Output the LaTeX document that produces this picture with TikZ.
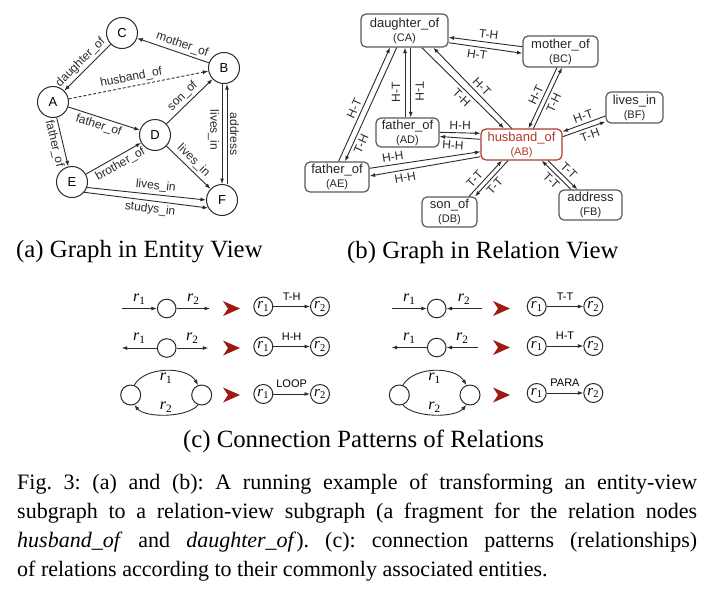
\documentclass[tikz,border=0pt]{standalone}
\usepackage{fontspec}
\setmainfont{Liberation Serif}
\setsansfont{Liberation Sans}
\usetikzlibrary{arrows.meta,calc}
\definecolor{ln}{HTML}{2B2B2B}
\definecolor{bx}{HTML}{5A5A5A}
\definecolor{rd}{HTML}{B0392E}
\definecolor{darr}{HTML}{9C1A12}
\newcommand\rsub[1]{\textit{r}\textsubscript{#1}}
\tolerance=10000 \hbadness=10000 \hyphenpenalty=10000
\frenchspacing
\begin{document}
\begin{tikzpicture}[x=1pt,y=-1pt,
  >={Latex[length=5.5pt,width=4pt]},
  ent/.style={circle,draw=ln,line width=1pt,minimum size=31pt,inner sep=0pt,font=\sffamily\fontsize{13}{13}\selectfont},
  arr/.style={->,draw=ln,line width=0.9pt},
  elab/.style={font=\sffamily\fontsize{12}{12}\selectfont,text=ln,inner sep=2.5pt},
  blab/.style={font=\sffamily\fontsize{12}{12}\selectfont,text=ln,inner sep=3pt},
  rbox/.style={draw=bx,rounded corners=5pt,line width=1.2pt,minimum height=30pt,inner sep=1pt,align=center,font=\sffamily\fontsize{13}{14}\selectfont,text=black!85},
  pcirc/.style={circle,draw=ln,line width=1pt,minimum size=18.6pt,inner sep=0pt},
  rcirc/.style={circle,draw=ln,line width=1pt,minimum size=19pt,inner sep=0pt,font=\fontsize{15}{15}\selectfont},
  rlab/.style={font=\fontsize{16}{16}\selectfont,inner sep=1pt},
  clab/.style={font=\sffamily\fontsize{11}{11}\selectfont,above=4pt,inner sep=2pt},
  sub/.style={font=\fontsize{24.8}{28}\selectfont,inner sep=0pt}
]
\useasboundingbox[fill=white] (0,0) rectangle (711,590);

% ---------------- (a) entity view ----------------
\node[ent] (C) at (122,33) {C};
\node[ent] (B) at (224,68) {B};
\node[ent] (A) at (53,102) {A};
\node[ent] (D) at (155,135) {D};
\node[ent] (E) at (72,182) {E};
\node[ent] (F) at (222,200) {F};

\draw[arr] (C) -- node[elab,sloped,above,pos=0.52] {daughter\_of} (A);
\draw[arr] (B) -- node[elab,sloped,above,pos=0.41] {mother\_of} (C);
\draw[arr,dash pattern=on 3pt off 2pt] (A) -- node[elab,sloped,above,pos=0.46] {husband\_of} (B);
\draw[arr] (A) -- node[elab,sloped,below,pos=0.46] {father\_of} (D);
\draw[arr] (A) -- node[elab,sloped,below] {father\_of} (E);
\draw[arr] (E) -- node[elab,sloped,below,pos=0.55] {brother\_of} (D);
\draw[arr] (D) -- node[elab,sloped,above,pos=0.48] {son\_of} (B);
\draw[arr] (D) -- node[elab,sloped,above,pos=0.48] {lives\_in} (F);
\draw[arr] ([xshift=-2pt]B.south) -- node[elab,rotate=-90,anchor=north,pos=0.46] {lives\_in} (F.north);
\draw[arr] ([xshift=5pt]F.north) -- node[elab,rotate=-90,anchor=south,pos=0.5] {address} ([xshift=3pt]B.south);
\draw[arr] (E.-20) -- node[elab,sloped,above,pos=0.57] {lives\_in} (F.180);
\draw[arr] (E.-40) -- node[elab,sloped,below,pos=0.54] {studys\_in} (F.-150);

% ---------------- (b) relation view ----------------
\node[rbox,minimum width=87pt,minimum height=33pt] (CA) at (404.5,30.5) {daughter\_of\\\fontsize{11}{14}\selectfont (CA)};
\node[rbox,minimum width=75pt,minimum height=31pt] (BC) at (560.5,51.5) {mother\_of\\\fontsize{11}{14}\selectfont (BC)};
\node[rbox,minimum width=57pt,minimum height=31pt] (BF) at (634.5,107.5) {lives\_in\\\fontsize{11}{14}\selectfont (BF)};
\node[rbox,minimum width=63pt,minimum height=29pt] (AD) at (407.5,132.5) {father\_of\\\fontsize{11}{14}\selectfont (AD)};
\node[rbox,minimum width=81pt,minimum height=31pt,draw=rd,text=rd] (AB) at (521.5,144.5) {husband\_of\\\fontsize{11}{14}\selectfont (AB)};
\node[rbox,minimum width=64pt] (AE) at (337,177) {father\_of\\\fontsize{11}{14}\selectfont (AE)};
\node[rbox,minimum width=55pt] (DB) at (449.5,212) {son\_of\\\fontsize{11}{14}\selectfont (DB)};
\node[rbox,minimum width=63pt] (FB) at (590.5,205) {address\\\fontsize{11}{14}\selectfont (FB)};

% CA - BC
\draw[arr] ([shift={(0,-4.8)}]BC.west) -- node[blab,sloped,above,pos=0.47] {T-H} ([shift={(0,6.8)}]CA.east);
\draw[arr] ([shift={(0,12.2)}]CA.east) -- node[blab,sloped,below,pos=0.4] {H-T} ([shift={(0,1.8)}]BC.west);
% CA - AD
\draw[arr] ([shift={(-2.5,0)}]AD.north) -- node[blab,rotate=90,anchor=south,outer sep=2pt,pos=0.36] {H-T} ([shift={(0.5,0)}]CA.south);
\draw[arr] ([shift={(6.2,0)}]CA.south) -- node[blab,rotate=-90,anchor=south,outer sep=2pt,pos=0.63] {T-H} ([shift={(3.2,0)}]AD.north);
% CA - AE
\draw[arr] ([shift={(1.5,0)}]AE.north) -- node[blab,sloped,above,pos=0.44] {H-T} ([shift={(-14.5,0)}]CA.south);
\draw[arr] ([shift={(-7.8,0)}]CA.south) -- node[blab,sloped,below,pos=0.82] {T-H} ([shift={(8,0)}]AE.north);
% CA - AB
\draw[arr] ([shift={(17.2,0)}]CA.south) -- node[blab,sloped,below,pos=0.55] {T-H} ([shift={(-17.5,0)}]AB.north);
\draw[arr] ([shift={(-9.8,0)}]AB.north) -- node[blab,sloped,above,pos=0.45] {H-T} ([shift={(28.8,0)}]CA.south);
% BC - AB
\draw[arr] ([shift={(-3.5,0)}]BC.south) -- node[blab,sloped,above,pos=0.5] {H-T} ([shift={(7,0)}]AB.north);
\draw[arr] ([shift={(12,0)}]AB.north) -- node[blab,sloped,below,pos=0.47] {T-H} ([shift={(1.5,0)}]BC.south);
% BF - AB
\draw[arr] ([shift={(0,8.5)}]BF.west) -- node[blab,sloped,above,pos=0.46] {H-T} ([shift={(0,-12.8)}]AB.east);
\draw[arr] ([shift={(0,-7.8)}]AB.east) -- node[blab,sloped,below,pos=0.58] {T-H} ([shift={(0,14.2)}]BF.west);
% AD - AB
\draw[arr] ([shift={(0,-0.2)}]AD.east) -- node[blab,sloped,above,pos=0.5] {H-H} ([shift={(0,-11.2)}]AB.west);
\draw[arr] ([shift={(0,-5.2)}]AB.west) -- node[blab,sloped,below,pos=0.66] {H-H} ([shift={(0,4)}]AD.east);
% AE - AB
\draw[arr] ([shift={(0,-8.7)}]AE.east) -- node[blab,sloped,above,pos=0.22] {H-H} ([shift={(0,7.2)}]AB.west);
\draw[arr] ([shift={(0,12.2)}]AB.west) -- node[blab,sloped,below,pos=0.69] {H-H} ([shift={(0,-1)}]AE.east);
% DB - AB
\draw[arr] ([shift={(19.5,0)}]DB.north) -- node[blab,sloped,above,pos=0.34] {T-T} ([shift={(-19.5,0)}]AB.south);
\draw[arr] ([shift={(-13.5,0)}]AB.south) -- node[blab,sloped,below,pos=0.57] {T-T} ([shift={(25.5,0)}]DB.north);
% FB - AB
\draw[arr] ([shift={(-19.5,0)}]FB.north) -- node[blab,sloped,below,pos=0.49] {T-T} ([shift={(20.2,0)}]AB.south);
\draw[arr] ([shift={(26.5,0)}]AB.south) -- node[blab,sloped,above,pos=0.53] {T-T} ([shift={(-13.2,0)}]FB.north);

% ---------------- sub captions ----------------
\node[sub,anchor=west] (capa) at (16,252) {(a) Graph in Entity View};
\node[sub,anchor=west] (capb) at (347,253) {(b) Graph in Relation View};

% ---------------- (c) patterns, left column ----------------
% row 1: T-H
\node[pcirc] (p1) at (166.7,308.5) {};
\coordinate (p1s) at (121.7,308.5);
\coordinate (p1e) at (210,308.5);
\draw[arr] (p1s) -- node[rlab,above=3pt] {\rsub1} (p1);
\draw[arr] (p1) -- node[rlab,above=3pt] {\rsub2} (p1e);
\fill[darr] (223,301) -- (240,308.5) -- (223,316) -- (228,308.5) -- cycle;
\node[rcirc] (a1) at (263.3,306.5) {\rsub1};
\node[rcirc] (b1) at (320,306.5) {\rsub2};
\draw[arr] (a1) -- node[clab] {T-H} (b1);
% row 2: H-H
\node[pcirc] (p2) at (166.7,348) {};
\coordinate (p2s) at (121.7,348);
\coordinate (p2e) at (208.3,348);
\draw[arr] (p2) -- node[rlab,above=3pt] {\rsub1} (p2s);
\draw[arr] (p2) -- node[rlab,above=3pt] {\rsub2} (p2e);
\fill[darr] (223,340.5) -- (240,348) -- (223,355.5) -- (228,348) -- cycle;
\node[rcirc] (a2) at (263.3,346.5) {\rsub1};
\node[rcirc] (b2) at (320,346.5) {\rsub2};
\draw[arr] (a2) -- node[clab] {H-H} (b2);
% row 3: LOOP
\node[pcirc,minimum size=20pt] (l3) at (130.7,395) {};
\node[pcirc,minimum size=20pt] (m3) at (201.7,395) {};
\draw[arr] (l3.70) .. controls (145,366) and (187,366) .. node[rlab,below=1pt] {\rsub1} (m3.110);
\draw[arr] (m3.-110) .. controls (187,418) and (145,418) .. node[rlab,above=1pt] {\rsub2} (l3.-70);
\fill[darr] (223,387.5) -- (240,395) -- (223,402.5) -- (228,395) -- cycle;
\node[rcirc] (a3) at (263.3,394) {\rsub1};
\node[rcirc] (b3) at (320,394) {\rsub2};
\draw[arr] (a3) -- node[clab] {LOOP} (b3);

% ---------------- (c) patterns, right column ----------------
% row 1: T-T
\node[pcirc] (q1) at (436.7,308.5) {};
\coordinate (q1s) at (391.7,308.5);
\coordinate (q1e) at (481.7,308.5);
\draw[arr] (q1s) -- node[rlab,above=3pt] {\rsub1} (q1);
\draw[arr] (q1e) -- node[rlab,above=3pt] {\rsub2} (q1);
\fill[darr] (493,301) -- (510,308.5) -- (493,316) -- (498,308.5) -- cycle;
\node[rcirc] (c1) at (536.7,306.5) {\rsub1};
\node[rcirc] (d1) at (593.3,306.5) {\rsub2};
\draw[arr] (c1) -- node[clab] {T-T} (d1);
% row 2: H-T
\node[pcirc] (q2) at (436.7,347.5) {};
\coordinate (q2s) at (391.7,347.5);
\coordinate (q2e) at (478.3,347.5);
\draw[arr] (q2) -- node[rlab,above=3pt] {\rsub1} (q2s);
\draw[arr] (q2e) -- node[rlab,above=3pt] {\rsub2} (q2);
\fill[darr] (493,340) -- (510,347.5) -- (493,355) -- (498,347.5) -- cycle;
\node[rcirc] (c2) at (536.7,346) {\rsub1};
\node[rcirc] (d2) at (593.3,346) {\rsub2};
\draw[arr] (c2) -- node[clab] {H-T} (d2);
% row 3: PARA
\node[pcirc,minimum size=20pt] (l4) at (399.3,395) {};
\node[pcirc,minimum size=20pt] (m4) at (470,395) {};
\draw[arr] (l4.70) .. controls (414,366) and (455,366) .. node[rlab,below=1pt] {\rsub1} (m4.110);
\draw[arr] (l4.-70) .. controls (414,418) and (455,418) .. node[rlab,above=1pt] {\rsub2} (m4.-110);
\fill[darr] (493,387.5) -- (510,395) -- (493,402.5) -- (498,395) -- cycle;
\node[rcirc] (c3) at (536.7,393) {\rsub1};
\node[rcirc] (d3) at (593.3,393) {\rsub2};
\draw[arr] (c3) -- node[clab] {PARA} (d3);

% ---------------- captions ----------------
\node[sub] (capc) at (363.5,441) {(c) Connection Patterns of Relations};
\node[anchor=north west,inner sep=0pt,text width=680pt,align=justify,font=\fontsize{22}{29}\selectfont] (cap) at (17,474)
{Fig. 3: (a) and (b): A running example of transforming an entity-view\linebreak
subgraph to a relation-view subgraph (a fragment for the relation nodes\linebreak
\textit{husband\_of} and \textit{daughter\_of}). (c): connection patterns (relationships)\linebreak
of relations according to their commonly associated entities.};
\end{tikzpicture}
\end{document}
